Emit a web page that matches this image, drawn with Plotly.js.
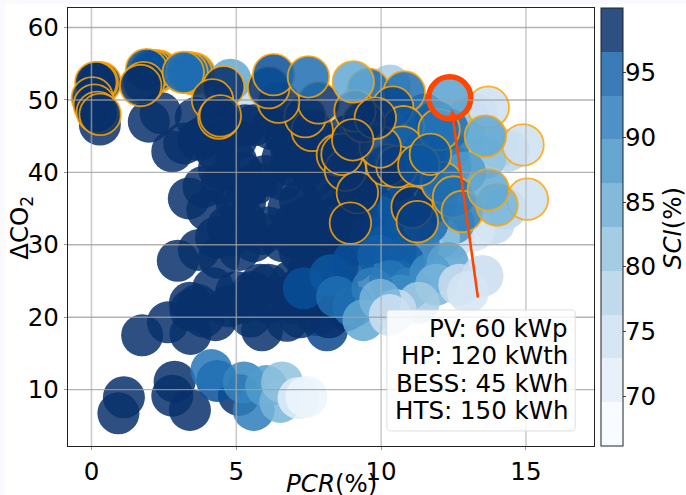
<!DOCTYPE html>
<html><head><meta charset="utf-8">
<script src="https://cdn.plot.ly/plotly-3.0.1.min.js"></script>
<style>html,body{margin:0;padding:0;background:#f9f9fe}#b{position:absolute;left:5px;top:4px;width:681px;height:491px;background:#fff}#c{position:absolute;left:0;top:0;width:686px;height:495px}</style></head>
<body><div id="b"></div><div id="c"></div>
<script>
// Scenarios without outline (drawn first to last)
const pcrA=[5.5,4.8,10.3,
 14.3,13.9,13.2,12.5,14.4,14.0,13.6,13.3,13.0,12.9,12.4,11.7,12.5,12.0,11.6,11.3,12.3,11.9,12.9,11.5,12.3,11.5,11.9,11.9,
 0.93,1.12,2.79,2.87,3.4,5.09,
 1.75,2.64,3.42,3.42,3.67,3.88,4.28,4.74,5.49,5.55,5.89,5.83,6.75,6.41,7.79,8.13,6.9,6.1,7.5,7.2,6.6,5.6,5.1,4.4,2.98,3.71,4.3,4.7,5.3,6.1,7.0,8.0,8.5,8.8,9.5,9.3,
 3.36,3.87,4.5,4.0,5.0,5.4,5.2,6.0,6.6,7.2,8.0,7.5,6.9,7.0,6.7,6.2,5.3,5.0,4.6,4.3,3.9,3.2,2.79,1.98,2.39,0.29,8.2,8.8,9.3,9.8,8.5,7.6,
 5.6,6.7,7.3,8,8.5,9,9.5,9,8.5,7.7,6.8,7.5,7,8,9,9.5,9,7.7,8.2,7.2,7,7.7,8.5,6.1,5.2,5,4.2,3.4,8.8,8.2,7.2,5,4.4,5.7,6.9,6.6,3.7,5.3,4.8,5.9,3.6,
 9.6,10.1,10.6,10.6,10.2,10.5,
 4.34,4.14,5.6,5.26,6.03,6.52,6.58,7.15,7.42,
 7.33,8.25,9.04,9.9,10.8,10.6,8.48,9.04,10.3,
 11,10.7,9.7,9.39,11.7,12.3,11.9,11.3,12.7,13.5,13,10.5,9.97,10.3];
const co2A=[50,52.8,52,
 35,33,32,31,43,43.5,42,48,47.5,45,41,40,33,31,33,30,43,36,40,48,46,43,47,36,
 6.74,8.95,9.17,11.1,7.2,9.27,
 17.5,19.3,17.7,21,21.7,20.1,19.6,21.5,20.1,23.5,18.2,24.5,19.5,22.8,20.3,18.2,25,24.5,26.5,29,30.5,30.5,29.3,28.2,27.8,29.3,31,32.5,33.3,32.4,33,30,27,31,33,37,
 36.4,38,38.5,34.8,36,38,40,39.5,39,36,38,41,41,43,45,46,46.5,44.5,45.5,43,45,44,42.9,47,48.2,46.6,42,45,40,35,34,33,
 46.5,47,45,44,42,40,38,36,36,39.5,35,34,31,32,30,30,34,28,25,24,22,22.5,24,22,22,23.5,24,22,21,20,20,41.5,40.5,38.5,43,42,44.5,35.8,31.3,31.5,47.5,
 31,33,35,39,30,29,
 11.2,12.7,7.2,11,10.5,8.3,11,8.85,9,
 24,25.8,27.7,28.5,27.5,25,22.8,21.5,25,
 24,23,24,19.6,26,27.5,24.5,22,24.5,25.7,23.5,21,22.4,20.3];
const sciA=[75,84,78,
 76,75,72,73,76,77,80,74,76,80,88,92,87,80,92,90,90,93,86,94,92,93,94,93,
 100,100,100,100,100,100,
 100,100,100,100,100,100,100,100,100,100,100,100,100,100,100,97,100,100,100,100,100,100,100,100,100,100,100,100,100,100,100,100,100,100,100,100,
 100,100,100,100,100,100,100,100,100,100,100,100,100,100,100,100,100,100,100,100,100,100,100,100,100,100,100,100,100,100,100,100,
 100,100,100,100,100,100,100,100,100,100,100,100,100,100,100,100,100,100,100,100,100,100,100,100,100,100,100,100,100,100,100,100,100,100,100,100,100,100,100,100,100,
 97,96,95,97,95,95,
 96,91,90,89,86,82,80,70,68,
 96,95,96,94,94,93,92,92,91,
 90,88,90,84,88,85,82,78,74,74,72,74,82,73];
// Scenarios with outline
const pcrB=[0.3,0.2,0.15,0.03,0.1,0.2,0.3,
 2.3,2.2,2.05,1.9,1.8,1.7,
 3.55,3.45,3.3,3.17,4.56,4.18,4.4,4.45,
 7.62,7.38,7.84,6.46,6.12,6.29,7.49,8.49,8.77,8.65,
 9.18,8.94,9.56,10.8,10.4,10.77,10.73,10.2,10.55,9.97,9.4,9.1,9.8,9.02,
 11.07,11.25,12.0,12.1,12.5,12.8,11.3,11.7,
 13.7,14.9,13.6,15.05,14,13.7,9.04];
const co2B=[52.4,52.4,52.4,50.3,49.3,48.3,48,
 54,54,54.1,54.2,52.4,52,
 53.6,53.7,53.8,53.8,51.8,50,47.5,47.8,
 45.8,47.7,49.6,49.7,51.7,53.5,53.2,42.4,40.3,42.5,
 37.2,33,51.5,51.1,49,46.3,43.5,41,40.8,43.5,47,48.5,47.5,44.5,
 35.2,33.2,45.9,38.6,36.6,34.6,41,42.5,
 49,43.8,45,36.3,35.5,37.6,52.5];
const sciB=[100,100,100,100,100,100,100,
 96,96,96,96,100,100,
 92,92,92,92,100,100,100,100,
 100,100,100,100,100,96,92,100,100,100,
 100,100,93,92,97,95,94,100,100,98,100,100,100,100,
 100,98,91,92,92,90,96,95,
 73,73,84,73,82,84,84];
// Selected design
const pcrS=[12.37], co2S=[50.3], sciS=[85];
const arrowTail=[13.35,22.5], arrowHead=[12.44,48.7];
const xTicks=[0,5,10,15], yTicks=[10,20,30,40,50,60], cTicks=[70,75,80,85,90,95];
const infoLines=["PV: 60 kWp","HP: 120 kWth","BESS: 45 kWh","HTS: 150 kWh"];
const infoY=[18.5,14.7,10.9,7.1];
const bands=["247,251,255","227,238,249","207,225,242","181,212,233","147,196,222","109,174,213","74,151,201","46,126,188","23,100,171","8,48,107"];
const blues=["247,251,255","222,235,247","198,219,239","158,202,225","107,174,214","66,146,198","33,113,181","8,81,156","8,48,107"];
const cmin=66.2,cmax=99.95;
const stepped=[];
bands.forEach((b,i)=>{stepped.push([i/bands.length,`rgba(${b},0.85)`]);stepped.push([(i+1)/bands.length,`rgba(${b},0.85)`]);});
const smooth=blues.map((b,i)=>[i/(blues.length-1),`rgba(${b},0.85)`]);
const font="'DejaVu Sans'";
const traces=[
 {type:'scatter',mode:'markers',x:pcrS,y:co2S,hoverinfo:'skip',showlegend:false,
  marker:{size:1,opacity:0,color:sciS,colorscale:stepped,cmin,cmax,line:{width:0},
   colorbar:{x:1.0127,xanchor:'left',xpad:0,y:0,yanchor:'bottom',ypad:0,len:1,lenmode:'fraction',thickness:21.5,thicknessmode:'pixels',
    tickvals:cTicks,ticks:'outside',ticklen:3,tickwidth:1,showticklabels:false,outlinewidth:1,outlinecolor:'#222'}}},
 {type:'scatter',mode:'markers',x:pcrA,y:co2A,hoverinfo:'skip',showlegend:false,
  marker:{size:42,color:sciA,colorscale:smooth,cmin,cmax,showscale:false,line:{width:0}}},
 {type:'scatter',mode:'markers',x:pcrB,y:co2B,hoverinfo:'skip',showlegend:false,
  marker:{size:41.5,color:sciB,colorscale:smooth,cmin,cmax,showscale:false,line:{width:1.8,color:'rgba(255,165,0,0.85)'}}},
 {type:'scatter',mode:'markers',x:pcrS,y:co2S,hoverinfo:'skip',showlegend:false,
  marker:{size:42,color:sciS,colorscale:smooth,cmin,cmax,showscale:false,line:{width:5.5,color:'#ff4500'}}}
];
const shapes=[];
xTicks.forEach(v=>shapes.push({type:'line',layer:'above',xref:'x',yref:'paper',x0:v,x1:v,y0:0,y1:1,line:{color:'rgba(176,176,176,0.65)',width:1.6}}));
yTicks.forEach(v=>shapes.push({type:'line',layer:'above',xref:'paper',yref:'y',x0:0,x1:1,y0:v,y1:v,line:{color:'rgba(160,160,160,0.8)',width:1.4}}));
shapes.push({type:'path',layer:'above',xref:'x',yref:'y',fillcolor:'rgba(255,255,255,0.82)',line:{color:'rgba(215,215,215,0.8)',width:1},
 path:'M 10.35 21 L 16.55 21 Q 16.7 21 16.7 20.6 L 16.7 4.7 Q 16.7 4.3 16.55 4.3 L 10.35 4.3 Q 10.2 4.3 10.2 4.7 L 10.2 20.6 Q 10.2 21 10.35 21 Z'});
const annotations=infoLines.map((t,i)=>({xref:'x',yref:'y',x:16.48,y:infoY[i],xanchor:'right',yanchor:'middle',showarrow:false,borderpad:0,text:t,font:{size:24.5,family:font,color:'#000'}}));
annotations.push({xref:'x',yref:'y',axref:'x',ayref:'y',x:arrowHead[0],y:arrowHead[1],ax:arrowTail[0],ay:arrowTail[1],showarrow:true,arrowhead:2,arrowsize:0.7,arrowwidth:2.6,arrowcolor:'#ff4500',text:''});
annotations.push({xref:'paper',yref:'paper',x:1.148,y:0.497,xanchor:'center',yanchor:'middle',textangle:-90,showarrow:false,text:'<i>SCI</i>(%)',font:{size:24.5,family:font,color:'#000'}});
annotations.push({xref:'paper',yref:'paper',x:-0.0883,y:0.497,xanchor:'center',yanchor:'middle',textangle:-90,showarrow:false,text:'ΔCO<sub>2</sub>',font:{size:24.5,family:font,color:'#000'}});
annotations.push({xref:'paper',yref:'paper',x:0.5,y:-0.0845,xanchor:'center',yanchor:'middle',showarrow:false,borderpad:0,text:'<i>PCR</i>(%)',font:{size:24.5,family:font,color:'#000'}});
cTicks.forEach(v=>annotations.push({xref:'paper',yref:'paper',x:1.0575,y:(v-cmin)/(cmax-cmin),xanchor:'left',yanchor:'middle',showarrow:false,borderpad:0,text:String(v),font:{size:24.5,family:font,color:'#000'}}));
Plotly.newPlot('c',traces,{
 width:686,height:495,paper_bgcolor:'rgba(0,0,0,0)',plot_bgcolor:'#fff',showlegend:false,
 margin:{l:67.5,r:92,t:7.5,b:49,pad:0,autoexpand:false},
 font:{family:font,color:'#000',size:24.5},
 xaxis:{range:[-0.81,17.35],tickvals:xTicks,ticks:'outside',ticklen:3,tickcolor:'#999',showgrid:false,zeroline:false,showline:true,mirror:true,linecolor:'#222',linewidth:1.2,
  tickfont:{size:24.5,family:font}},
 yaxis:{range:[2.22,62.7],tickvals:yTicks,ticks:'outside',ticklen:3,tickcolor:'#999',showgrid:false,zeroline:false,showline:true,mirror:true,linecolor:'#222',linewidth:1.2,
  tickfont:{size:24.5,family:font}},
 shapes,annotations
},{displayModeBar:false,staticPlot:true});
</script></body></html>
